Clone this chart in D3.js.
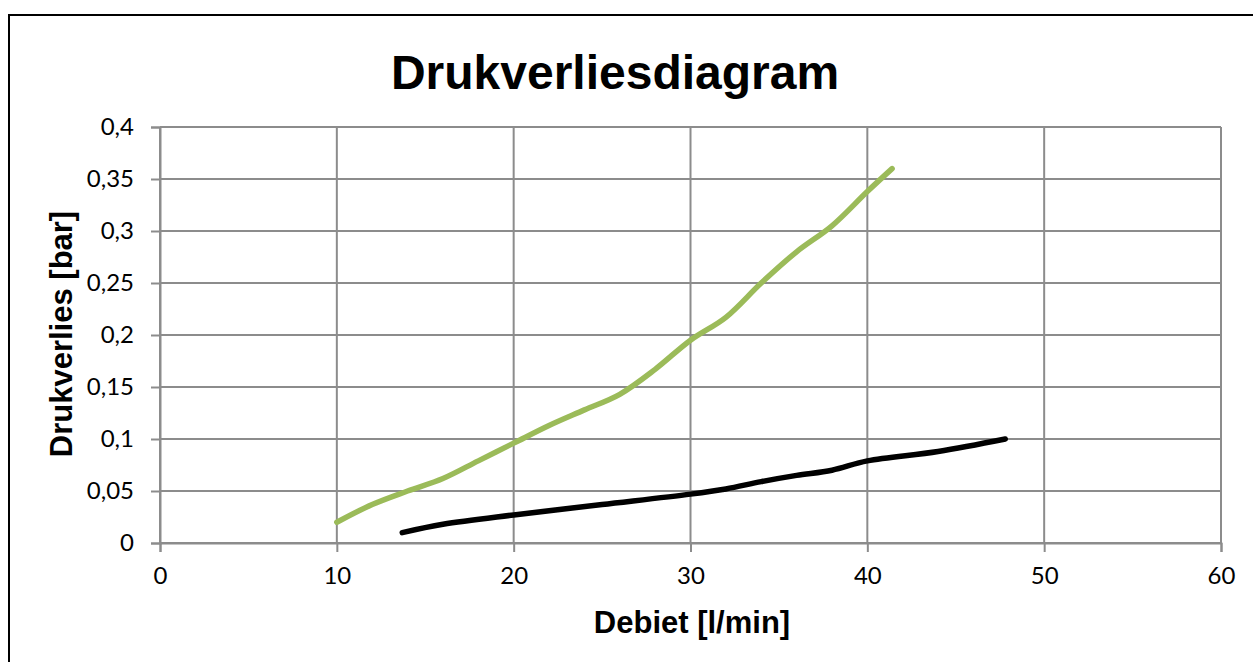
<!DOCTYPE html>
<html>
<head>
<meta charset="utf-8">
<script src="https://cdn.jsdelivr.net/npm/d3@7"></script>
<style>
  body { margin: 0; background: #fff; }
  svg { display: block; }
</style>
</head>
<body>
<div id="chart"></div>
<script>
// data
var greenX = [10, 12, 14, 16, 18, 20, 22, 24, 26, 28, 30, 32, 34, 36, 38, 40, 41.4]
var greenY = [0.020, 0.037, 0.050, 0.062, 0.079, 0.096, 0.113, 0.128, 0.143, 0.167, 0.195, 0.217, 0.250, 0.280, 0.305, 0.338, 0.360]
var blackX = [13.7, 16, 20, 25, 30, 32, 34, 36, 38, 40, 44, 47.8]
var blackY = [0.010, 0.018, 0.027, 0.037, 0.047, 0.052, 0.059, 0.065, 0.070, 0.079, 0.088, 0.100]
var xTicks = [0, 10, 20, 30, 40, 50, 60]
var yTicks = [0, 0.05, 0.1, 0.15, 0.2, 0.25, 0.3, 0.35, 0.4]

var W = 1253, H = 662
var margin = {top: 127, right: 32, bottom: 119, left: 160}
var width = W - margin.left - margin.right
var height = H - margin.top - margin.bottom

var svg = d3.select("#chart").append("svg")
    .attr("width", W)
    .attr("height", H)

// outer frame (runs off the right and bottom edge)
svg.append("rect")
    .attr("x", 9).attr("y", 15)
    .attr("width", W + 20).attr("height", H + 20)
    .attr("fill", "none")
    .attr("stroke", "#000")
    .attr("stroke-width", 2)

var g = svg.append("g")
    .attr("transform", "translate(" + margin.left + "," + margin.top + ")")

var x = d3.scaleLinear().domain([0, 60]).range([0, width])
var y = d3.scaleLinear().domain([0, 0.4]).range([height, 0])

var fmt = function(d) { return String(d).replace(".", ",") }

// grid
g.append("g").selectAll("line").data(yTicks).enter().append("line")
    .attr("x1", 0).attr("x2", width)
    .attr("y1", function(d) { return y(d) }).attr("y2", function(d) { return y(d) })
    .attr("stroke", "#8c8c8c").attr("stroke-width", 2)
g.append("g").selectAll("line").data(xTicks).enter().append("line")
    .attr("x1", function(d) { return x(d) }).attr("x2", function(d) { return x(d) })
    .attr("y1", 0).attr("y2", height)
    .attr("stroke", "#8c8c8c").attr("stroke-width", 2)

// axes
var xAxis = g.append("g")
    .attr("transform", "translate(0," + height + ")")
    .call(d3.axisBottom(x).tickValues(xTicks).tickFormat(fmt).tickSize(9).tickPadding(15))
var yAxis = g.append("g")
    .call(d3.axisLeft(y).tickValues(yTicks).tickFormat(fmt).tickSize(9).tickPadding(17))

;[xAxis, yAxis].forEach(function(a) {
  a.select(".domain").attr("stroke", "#8c8c8c").attr("stroke-width", 2)
  a.selectAll(".tick line").attr("stroke", "#8c8c8c").attr("stroke-width", 2)
  a.selectAll(".tick text")
    .attr("font-family", "Lato, 'Open Sans', sans-serif")
    .attr("font-size", 24)
    .attr("fill", "#000")
})

// curves
var line = d3.line()
    .curve(d3.curveCatmullRom.alpha(0.5))
    .x(function(d) { return x(d[0]) })
    .y(function(d) { return y(d[1]) })

var green = d3.zip(greenX, greenY)
var black = d3.zip(blackX, blackY)

g.append("path").datum(green)
    .attr("d", line)
    .attr("fill", "none")
    .attr("stroke", "#9bbb59")
    .attr("stroke-width", 5.5)
    .attr("stroke-linecap", "round")
    .attr("stroke-linejoin", "round")

g.append("path").datum(black)
    .attr("d", line)
    .attr("fill", "none")
    .attr("stroke", "#000")
    .attr("stroke-width", 5.5)
    .attr("stroke-linecap", "round")
    .attr("stroke-linejoin", "round")

// titles
svg.append("text")
    .attr("x", 615).attr("y", 89)
    .attr("text-anchor", "middle")
    .attr("font-family", "Arial, 'Liberation Sans', sans-serif")
    .attr("font-weight", "bold")
    .attr("font-size", 48)
    .text("Drukverliesdiagram")

svg.append("text")
    .attr("x", 692).attr("y", 633)
    .attr("text-anchor", "middle")
    .attr("font-family", "Arial, 'Liberation Sans', sans-serif")
    .attr("font-weight", "bold")
    .attr("font-size", 31)
    .text("Debiet [l/min]")

svg.append("text")
    .attr("transform", "translate(72,334) rotate(-90)")
    .attr("text-anchor", "middle")
    .attr("font-family", "Arial, 'Liberation Sans', sans-serif")
    .attr("font-weight", "bold")
    .attr("font-size", 31)
    .text("Drukverlies [bar]")
</script>
</body>
</html>
